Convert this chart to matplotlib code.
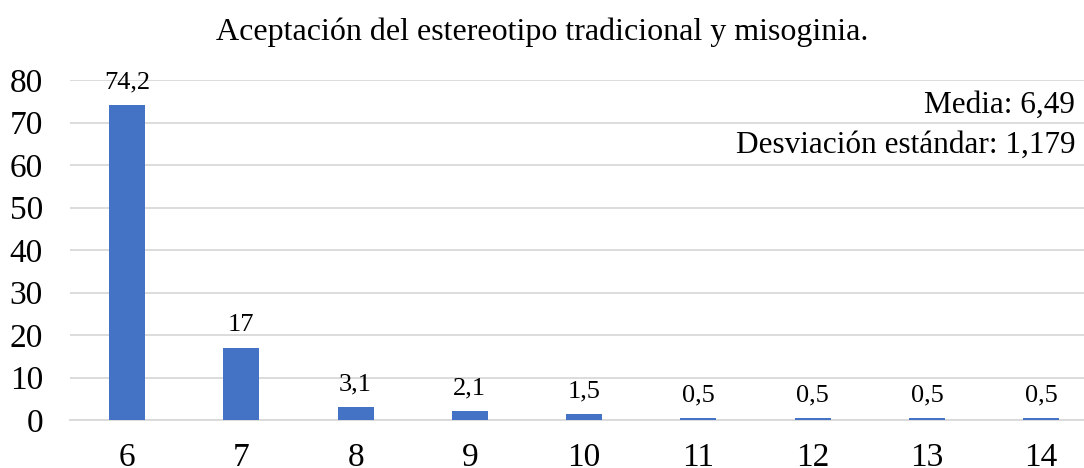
import matplotlib
matplotlib.use("Agg")
import matplotlib.pyplot as plt

categories = ["6", "7", "8", "9", "10", "11", "12", "13", "14"]
values = [74.2, 17, 3.1, 2.1, 1.5, 0.5, 0.5, 0.5, 0.5]
labels = ["74,2", "17", "3,1", "2,1", "1,5", "0,5", "0,5", "0,5", "0,5"]
title = "Aceptación del estereotipo tradicional y misoginia."
stats_lines = ["Media: 6,49", "Desviación estándar: 1,179"]

plt.rcParams['font.family'] = ['Liberation Serif', 'DejaVu Serif']

fig = plt.figure(figsize=(10.84, 4.68), dpi=100)
ax = fig.add_axes([70/1084, 1-420/468, 1-70/1084, (420-80)/468])

x = list(range(len(categories)))
bars = ax.bar(x, values, width=0.315, color="#4472C4", zorder=3)
ax.set_xlim(-0.5, -0.5 + (1084-70)/114.25)
ax.set_ylim(0, 80)
ax.set_yticks(range(0, 81, 10))
ax.set_xticks(x)
ax.set_xticklabels(categories)
ax.tick_params(axis='both', length=0, labelsize=24, colors='black')
ax.tick_params(axis='x', pad=16)
ax.tick_params(axis='y', pad=19.5)
ax.grid(axis='y', color='#D9D9D9', linewidth=1.3, zorder=0)
for s in ['top', 'right', 'left']:
    ax.spines[s].set_visible(False)
ax.spines['bottom'].set_color('#D9D9D9')
ax.spines['bottom'].set_linewidth(1.3)

for xi, v, lab in zip(x, values, labels):
    ax.annotate(lab, (xi, v), xytext=(0, 12), textcoords='offset points',
                ha='center', va='baseline', fontsize=19)

fig.text(0.5, 1-32/468, title, ha='center', va='center', fontsize=23)
fig.text(1075/1084, 1-105/468, stats_lines[0], ha='right', va='center', fontsize=22.5)
fig.text(1075/1084, 1-145/468, stats_lines[1], ha='right', va='center', fontsize=22.5)

fig.savefig("out.png", dpi=100)
